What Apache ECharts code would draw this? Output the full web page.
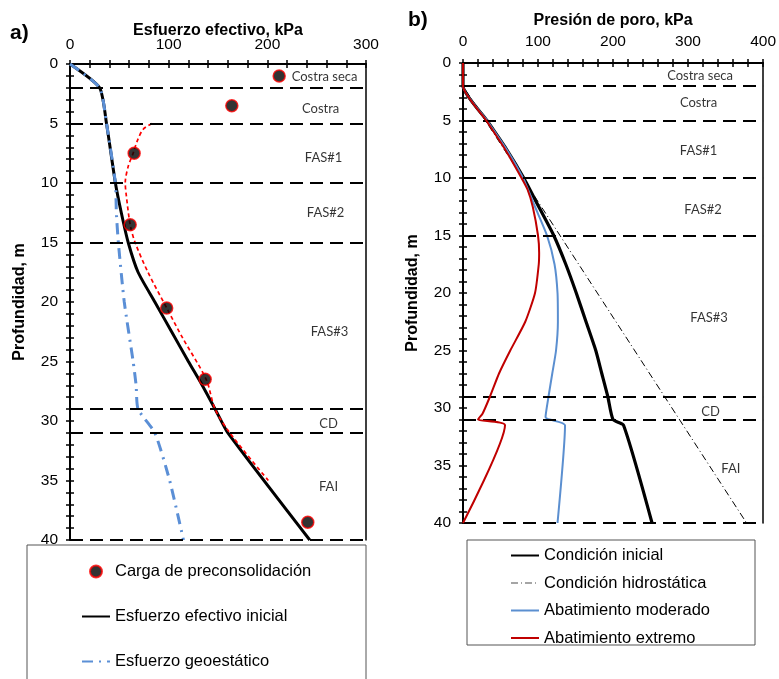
<!DOCTYPE html>
<html>
<head>
<meta charset="utf-8">
<script src="https://cdn.jsdelivr.net/npm/echarts@6/dist/echarts.min.js"></script>
<style>
  html, body { margin: 0; padding: 0; background: #fff; }
  #chart { width: 779px; height: 679px; }
</style>
</head>
<body>
<div id="chart"></div>
<script>
// estratos (profundidad de las fronteras, m)
var layerDepths = [2, 5, 10, 15, 29, 31, 40];
var layerNames = ["Costra seca", "Costra", "FAS#1", "FAS#2", "FAS#3", "CD", "FAI"];
// donde va el nombre de cada estrato (kPa, m)
var layerKpaA = [258, 254, 257, 259, 263, 262, 262];
var layerDepthA = [1.1, 3.8, 7.9, 12.5, 22.5, 30.2, 35.5];
var layerKpaB = [316, 314, 314, 320, 328, 330, 357];
var layerDepthB = [1.1, 3.5, 7.6, 12.8, 22.2, 30.3, 35.3];

// a) esfuerzo efectivo
var precDepth = [1, 3.5, 7.5, 13.5, 20.5, 26.5, 38.5];
var precKpa = [212, 164, 65, 61, 98, 137, 241];
var fitDepth = [5, 5.5, 6.5, 7.5, 8.6, 10, 11, 13.5, 15, 17.5, 20.5, 23, 26.5, 29, 31, 35];
var fitKpa = [83, 74, 68, 64, 59, 56, 57, 61, 66, 79, 98, 114, 138, 147, 162, 201];
var initDepth = [0, 2, 5, 10, 12.5, 15, 17.5, 20, 22.5, 25, 27, 29.3, 31, 40];
var initKpa = [0, 30, 37, 46, 52, 59, 69, 86, 103, 120, 134, 149, 160, 243];
var geoDepth = [0, 2, 5, 10, 12.5, 15, 20, 25, 27, 29, 31, 35, 40];
var geoKpa = [0, 30, 37, 46, 47, 49, 55, 64, 67, 69, 86, 101, 115];

// b) presion de poro
var uIniDepth = [0, 2, 5, 7.5, 10, 12.5, 15, 17.5, 20, 22.5, 25, 27, 29, 31, 31.5, 40];
var uIniKpa = [0, 0, 32, 58, 81, 101, 121, 137, 151, 164, 177, 185, 193, 200, 214, 252];
var uHidDepth = [0, 2, 40];
var uHidKpa = [0, 0, 378];
var uModDepth = [0, 2, 5, 7.5, 10, 12.5, 15, 17.5, 20, 22.5, 25, 27, 29, 30.8, 31.5, 40];
var uModKpa = [0, 0, 32, 58, 80, 96, 112, 122, 126, 126.5, 124, 119, 114, 110, 136, 126];
var uExtDepth = [0, 2, 5, 7.5, 10, 11, 12.5, 15, 16.5, 17.5, 20, 22.5, 25, 27, 29, 30.5, 31, 31.5, 40];
var uExtKpa = [0, 0, 31, 56, 78, 86, 93, 100, 101.5, 101, 96, 83, 63, 48, 36, 26, 20, 56, 0];

function pairs(kpa, depth) {
  return kpa.map(function (v, i) { return [v, depth[i]]; });
}

function layerLabels(kpa, depth) {
  return layerNames.map(function (n, i) {
    return { name: n, value: [kpa[i], depth[i]] };
  });
}

var tickStyle = { color: "#000", width: 1.5 };

function xAxes(gridIndex, max, name, gap, margin) {
  return [
    {
      gridIndex: gridIndex, type: "value", position: "top",
      min: 0, max: max, interval: 100,
      name: name, nameLocation: "middle", nameGap: gap, nameMoveOverlap: false,
      nameTextStyle: { fontFamily: "Liberation Sans", fontWeight: "bold", fontSize: 16, color: "#000" },
      axisLine: { show: true, lineStyle: { color: "#000", width: 2 } },
      axisTick: { show: true, length: 4, lineStyle: tickStyle },
      minorTick: { show: true, splitNumber: 5, length: 4, lineStyle: tickStyle },
      axisLabel: { fontFamily: "Liberation Sans", fontSize: 15.5, color: "#000", margin: margin },
      splitLine: { show: false }
    },
    {
      gridIndex: gridIndex, type: "value", position: "top",
      min: 0, max: max, interval: 100,
      axisLine: { show: false },
      axisTick: { show: true, inside: true, length: 4, lineStyle: tickStyle },
      minorTick: { show: true, splitNumber: 5, length: 4, lineStyle: tickStyle },
      axisLabel: { show: false },
      splitLine: { show: false }
    }
  ];
}

function yAxes(gridIndex) {
  return [
    {
      gridIndex: gridIndex, type: "value", inverse: true, position: "left",
      min: 0, max: 40, interval: 5,
      name: "Profundidad, m", nameLocation: "middle", nameGap: 42, nameMoveOverlap: false,
      nameTextStyle: { fontFamily: "Liberation Sans", fontWeight: "bold", fontSize: 16, color: "#000" },
      axisLine: { show: true, lineStyle: { color: "#000", width: 2 } },
      axisTick: { show: true, length: 4, lineStyle: tickStyle },
      minorTick: { show: true, splitNumber: 5, length: 4, lineStyle: tickStyle },
      axisLabel: { fontFamily: "Liberation Sans", fontSize: 15.5, color: "#000", margin: 12 },
      splitLine: { show: false }
    },
    {
      gridIndex: gridIndex, type: "value", inverse: true, position: "left",
      min: 0, max: 40, interval: 5,
      axisLine: { show: false },
      axisTick: { show: true, inside: true, length: 4, lineStyle: tickStyle },
      minorTick: { show: true, splitNumber: 5, length: 4, lineStyle: tickStyle },
      axisLabel: { show: false },
      splitLine: { show: false }
    },
    {
      gridIndex: gridIndex, type: "value", inverse: true, position: "right",
      min: 0, max: 40,
      axisLine: { show: true, lineStyle: { color: "#000", width: 1.5 } },
      axisTick: { show: false },
      axisLabel: { show: false },
      splitLine: { show: false }
    }
  ];
}

function layerSeries(xi, yi, kpa, depth) {
  return {
    name: "estratos", type: "scatter", xAxisIndex: xi, yAxisIndex: yi,
    symbolSize: 0, silent: true, z: 1,
    data: layerLabels(kpa, depth),
    label: {
      show: true, position: "inside", formatter: "{b}",
      fontFamily: "Lato", fontSize: 13, color: "#000"
    },
    markLine: {
      silent: true, symbol: "none",
      label: { show: false },
      lineStyle: { color: "#000", width: 2, type: [13, 7] },
      data: layerDepths.map(function (d) { return { yAxis: d }; })
    }
  };
}

// el simbolo de la leyenda de las lineas se oculta
var noMark = { opacity: 0 };

var chart = echarts.init(document.getElementById("chart"));

var option = {
  backgroundColor: "#fff",
  animation: false,
  grid: [
    { left: 70, top: 64, width: 296, height: 476 },
    { left: 463, top: 63, width: 302, height: 460 }
  ],
  xAxis: xAxes(0, 300, "Esfuerzo efectivo, kPa", 25, 11).concat(xAxes(1, 400, "Presión de poro, kPa", 34, 13)),
  yAxis: yAxes(0).concat(yAxes(1)),
  graphic: [
    { type: "text", left: 10, top: 23, style: { text: "a)", font: "bold 21px Liberation Sans", fill: "#000" } },
    { type: "text", left: 408, top: 10, style: { text: "b)", font: "bold 21px Liberation Sans", fill: "#000" } },
    { type: "rect", shape: { x: 27, y: 545, width: 339, height: 200 },
      style: { fill: "none", stroke: "#555", lineWidth: 1 }, silent: true },
    { type: "rect", shape: { x: 467, y: 540, width: 288, height: 105 },
      style: { fill: "none", stroke: "#555", lineWidth: 1 }, silent: true }
  ],
  legend: [
    {
      orient: "vertical", left: 81, top: 563, padding: 0,
      itemWidth: 28, itemHeight: 12, itemGap: 28,
      textStyle: { fontFamily: "Liberation Sans", fontSize: 16.5, color: "#000" },
      data: [
        { name: "Carga de preconsolidación" },
        { name: "Esfuerzo efectivo inicial", itemStyle: noMark },
        { name: "Esfuerzo geoestático", itemStyle: noMark }
      ]
    },
    {
      orient: "vertical", left: 510, top: 547, padding: 0,
      itemWidth: 28, itemHeight: 14, itemGap: 10.5,
      textStyle: { fontFamily: "Liberation Sans", fontSize: 16.5, color: "#000" },
      data: [
        { name: "Condición inicial", itemStyle: noMark },
        { name: "Condición hidrostática", itemStyle: noMark, lineStyle: { color: "#888", width: 1.5 } },
        { name: "Abatimiento moderado", itemStyle: noMark },
        { name: "Abatimiento extremo", itemStyle: noMark }
      ]
    }
  ],
  series: [
    layerSeries(0, 0, layerKpaA, layerDepthA),
    {
      name: "Esfuerzo geoestático", type: "line", xAxisIndex: 0, yAxisIndex: 0,
      showSymbol: false, symbol: "none", smooth: 0.2, z: 3,
      lineStyle: { color: "#5b8fd6", width: 3, type: [11, 6, 2, 6] },
      itemStyle: { color: "#5b8fd6" },
      data: pairs(geoKpa, geoDepth)
    },
    {
      name: "Esfuerzo efectivo inicial", type: "line", xAxisIndex: 0, yAxisIndex: 0,
      showSymbol: false, symbol: "none", smooth: 0.2, z: 2,
      lineStyle: { color: "#000", width: 3 },
      itemStyle: { color: "#000" },
      data: pairs(initKpa, initDepth)
    },
    {
      name: "ajuste", type: "line", xAxisIndex: 0, yAxisIndex: 0,
      showSymbol: false, symbol: "none", smooth: 0.3, z: 4,
      lineStyle: { color: "#ff0000", width: 1.7, type: [4, 3] },
      data: pairs(fitKpa, fitDepth)
    },
    {
      name: "Carga de preconsolidación", type: "scatter", xAxisIndex: 0, yAxisIndex: 0,
      symbol: "circle", symbolSize: 12, z: 5,
      itemStyle: { color: "#000", borderColor: "#ff0000", borderWidth: 1.5 },
      data: pairs(precKpa, precDepth)
    },

    layerSeries(2, 3, layerKpaB, layerDepthB),
    {
      name: "Condición hidrostática", type: "line", xAxisIndex: 2, yAxisIndex: 3,
      showSymbol: false, symbol: "none", z: 2,
      lineStyle: { color: "#000", width: 1, type: [7, 3, 1, 3] },
      itemStyle: { color: "#888" },
      data: pairs(uHidKpa, uHidDepth)
    },
    {
      name: "Condición inicial", type: "line", xAxisIndex: 2, yAxisIndex: 3,
      showSymbol: false, symbol: "none", smooth: 0.2, z: 3,
      lineStyle: { color: "#000", width: 3.2 },
      itemStyle: { color: "#000" },
      data: pairs(uIniKpa, uIniDepth)
    },
    {
      name: "Abatimiento moderado", type: "line", xAxisIndex: 2, yAxisIndex: 3,
      showSymbol: false, symbol: "none", smooth: 0.2, z: 4,
      lineStyle: { color: "#5b8fd0", width: 2 },
      itemStyle: { color: "#5b8fd0" },
      data: pairs(uModKpa, uModDepth)
    },
    {
      name: "Abatimiento extremo", type: "line", xAxisIndex: 2, yAxisIndex: 3,
      showSymbol: false, symbol: "none", smooth: 0.2, z: 5,
      lineStyle: { color: "#c00000", width: 2 },
      itemStyle: { color: "#c00000" },
      data: pairs(uExtKpa, uExtDepth)
    }
  ]
};

chart.setOption(option);
</script>
</body>
</html>
